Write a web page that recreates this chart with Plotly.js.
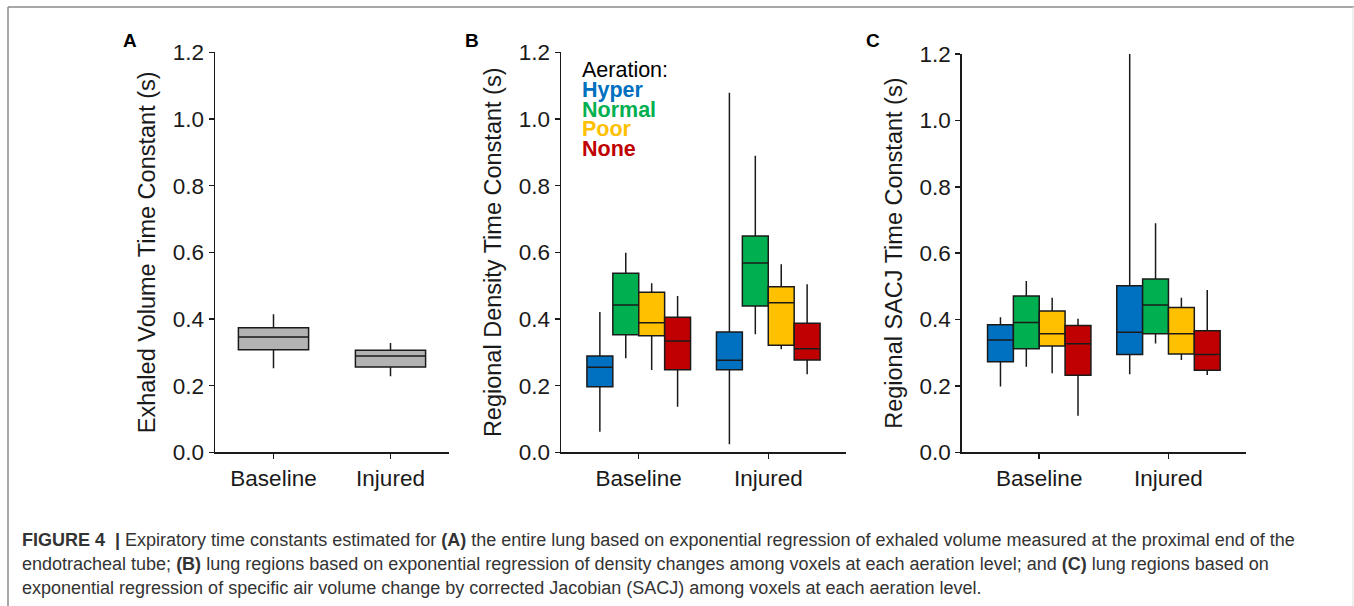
<!DOCTYPE html>
<html>
<head>
<meta charset="utf-8">
<script src="https://cdn.plot.ly/plotly-3.0.1.min.js"></script>
<style>
  html, body { margin: 0; padding: 0; background: #ffffff; }
  #fig { width: 1354px; height: 606px; }
</style>
</head>
<body>
<div id="fig"></div>
<script>
// Groups on the x axis of every panel
const groups = ['Baseline', 'Injured'];

// Panel A: whole-lung exhaled volume time constant (s), per group
const exhaledLow  = [0.252, 0.228];
const exhaledQ1   = [0.308, 0.256];
const exhaledMed  = [0.346, 0.289];
const exhaledQ3   = [0.374, 0.306];
const exhaledHigh = [0.414, 0.328];

// Aeration levels and their colours
const aerationLevels = ['Hyper', 'Normal', 'Poor', 'None'];
const aerationColors = ['#0070c0', '#00b050', '#ffc000', '#c00000'];

// Panel B: regional density time constant (s); rows = aeration level, cols = [Baseline, Injured]
const densityLow  = [[0.062, 0.024], [0.282, 0.354], [0.247, 0.309], [0.137, 0.234]];
const densityQ1   = [[0.197, 0.248], [0.353, 0.439], [0.350, 0.321], [0.248, 0.277]];
const densityMed  = [[0.255, 0.276], [0.442, 0.568], [0.389, 0.449], [0.334, 0.311]];
const densityQ3   = [[0.289, 0.361], [0.537, 0.649], [0.480, 0.497], [0.405, 0.387]];
const densityHigh = [[0.421, 1.079], [0.599, 0.890], [0.507, 0.564], [0.469, 0.504]];

// Panel C: regional SACJ time constant (s); rows = aeration level, cols = [Baseline, Injured]
const sacjLow  = [[0.198, 0.235], [0.258, 0.328], [0.238, 0.278], [0.110, 0.233]];
const sacjQ1   = [[0.273, 0.295], [0.312, 0.357], [0.320, 0.296], [0.232, 0.247]];
const sacjMed  = [[0.338, 0.362], [0.391, 0.444], [0.357, 0.357], [0.327, 0.295]];
const sacjQ3   = [[0.384, 0.502], [0.471, 0.522], [0.426, 0.436], [0.382, 0.366]];
const sacjHigh = [[0.407, 1.200], [0.516, 0.690], [0.466, 0.466], [0.402, 0.489]];

// Axis titles, panel letters and caption
const yTitles = ['Exhaled Volume Time Constant (s)', 'Regional Density Time Constant (s)', 'Regional SACJ Time Constant (s)'];
const yTickVals = [0, 0.2, 0.4, 0.6, 0.8, 1.0, 1.2];
const yTickText = ['0.0', '0.2', '0.4', '0.6', '0.8', '1.0', '1.2'];
const panelLetters = ['A', 'B', 'C'];
const legendHeading = 'Aeration:';
const captionLines = [
  '<b>FIGURE 4</b>  <b>|</b> Expiratory time constants estimated for <b>(A)</b> the entire lung based on exponential regression of exhaled volume measured at the proximal end of the',
  'endotracheal tube; <b>(B)</b> lung regions based on exponential regression of density changes among voxels at each aeration level; and <b>(C)</b> lung regions based on',
  'exponential regression of specific air volume change by corrected Jacobian (SACJ) among voxels at each aeration level.'
];

const FONT = 'Liberation Sans, Arial, Helvetica, sans-serif';
const INK = '#1a1a1a';
const W = 1354, H = 606;
const px = v => v / W;
const py = v => 1 - v / H;

const boxLine = { color: INK, width: 1.5 };

const traces = [];

// Panel A: single grey box per group
traces.push({
  type: 'box', xaxis: 'x', yaxis: 'y',
  x: groups,
  lowerfence: exhaledLow, q1: exhaledQ1, median: exhaledMed, q3: exhaledQ3, upperfence: exhaledHigh,
  fillcolor: '#b3b3b3', line: boxLine, whiskerwidth: 0, width: 0.6,
  showlegend: false, hoverinfo: 'skip'
});

// Panels B and C: one trace per aeration level, grouped side by side within each panel
function addAerationPanel(panel, xa, ya, lo, q1, med, q3, hi) {
  aerationLevels.forEach((lvl, i) => {
    traces.push({
      type: 'box', xaxis: xa, yaxis: ya, name: lvl,
      alignmentgroup: panel, offsetgroup: panel + '-' + lvl,
      x: groups,
      lowerfence: lo[i], q1: q1[i], median: med[i], q3: q3[i], upperfence: hi[i],
      fillcolor: aerationColors[i], line: boxLine, whiskerwidth: 0,
      showlegend: false, hoverinfo: 'skip'
    });
  });
}
addAerationPanel('B', 'x2', 'y2', densityLow, densityQ1, densityMed, densityQ3, densityHigh);
addAerationPanel('C', 'x3', 'y3', sacjLow, sacjQ1, sacjMed, sacjQ3, sacjHigh);

function xAxis(domain, range, anchor) {
  return {
    domain: domain, anchor: anchor, range: range, type: 'category',
    showline: true, linecolor: INK, linewidth: 1.5,
    ticks: 'outside', ticklen: 5, tickwidth: 1.5, tickcolor: INK,
    tickfont: { family: FONT, size: 22.5, color: INK },
    showgrid: false, zeroline: false, fixedrange: true, automargin: false
  };
}
function yAxis(domain, anchor, title) {
  return {
    domain: domain, anchor: anchor, range: [0, 1.2],
    tickvals: yTickVals, ticktext: yTickText,
    showline: true, linecolor: INK, linewidth: 1.5,
    ticks: 'outside', ticklen: 5, tickwidth: 1.5, tickcolor: INK,
    tickfont: { family: FONT, size: 22.5, color: INK },
    title: { text: title, font: { family: FONT, size: 23.5, color: INK }, standoff: 10 },
    showgrid: false, zeroline: false, fixedrange: true, automargin: false
  };
}

const yDomAB = [py(452.3), py(52.3)];
const yDomC = [py(452.3), py(54)];

const annotations = [];

// Panel letters
[130, 472, 873].forEach((x, i) => {
  annotations.push({
    xref: 'paper', yref: 'paper', x: px(x), y: py(40), xanchor: 'center', yanchor: 'middle',
    text: '<b>' + panelLetters[i] + '</b>', showarrow: false,
    font: { family: FONT, size: 19, color: '#000' }
  });
});

// Colour-coded aeration key in panel B (tightly stacked lines)
const keyLines = [legendHeading].concat(aerationLevels);
const keyColors = ['#000000'].concat(aerationColors);
keyLines.forEach((t, i) => {
  annotations.push({
    xref: 'paper', yref: 'paper', x: px(580), y: py(70 + i * 19.8), xanchor: 'left', yanchor: 'middle',
    text: i === 0 ? t : '<b>' + t + '</b>', showarrow: false,
    font: { family: FONT, size: 21.5, color: keyColors[i] }
  });
});

// Caption
captionLines.forEach((t, i) => {
  annotations.push({
    xref: 'paper', yref: 'paper', x: px(20), y: py(540 + i * 24), xanchor: 'left', yanchor: 'middle',
    text: t, showarrow: false, align: 'left',
    font: { family: FONT, size: 18, color: '#333333' }
  });
});

// Figure frame
const shapes = [
  { type: 'line', xref: 'paper', yref: 'paper', x0: px(8), x1: px(8), y0: 0, y1: py(7), line: { color: '#8a8a8a', width: 1.5 } },
  { type: 'line', xref: 'paper', yref: 'paper', x0: px(8), x1: 1, y0: py(7), y1: py(7), line: { color: '#8a8a8a', width: 1.5 } },
  { type: 'line', xref: 'paper', yref: 'paper', x0: px(1353), x1: px(1353), y0: 0, y1: py(7), line: { color: '#e0e0e0', width: 1 } }
];

const layout = {
  width: W, height: H,
  margin: { l: 0, r: 0, t: 0, b: 0, pad: 0 },
  paper_bgcolor: '#ffffff', plot_bgcolor: 'rgba(0,0,0,0)',
  showlegend: false,
  boxmode: 'group', boxgap: 0.2, boxgroupgap: 0,
  font: { family: FONT, color: INK },
  xaxis:  xAxis([px(215), px(449)], [-0.5, 1.5], 'y'),
  yaxis:  yAxis(yDomAB, 'x', yTitles[0]),
  xaxis2: xAxis([px(561), px(846)], [-0.6, 1.6], 'y2'),
  yaxis2: yAxis(yDomAB, 'x2', yTitles[1]),
  xaxis3: xAxis([px(961.7), px(1246)], [-0.6, 1.6], 'y3'),
  yaxis3: yAxis(yDomC, 'x3', yTitles[2]),
  annotations: annotations,
  shapes: shapes
};

Plotly.newPlot('fig', traces, layout, { staticPlot: true, displayModeBar: false });
</script>
</body>
</html>
